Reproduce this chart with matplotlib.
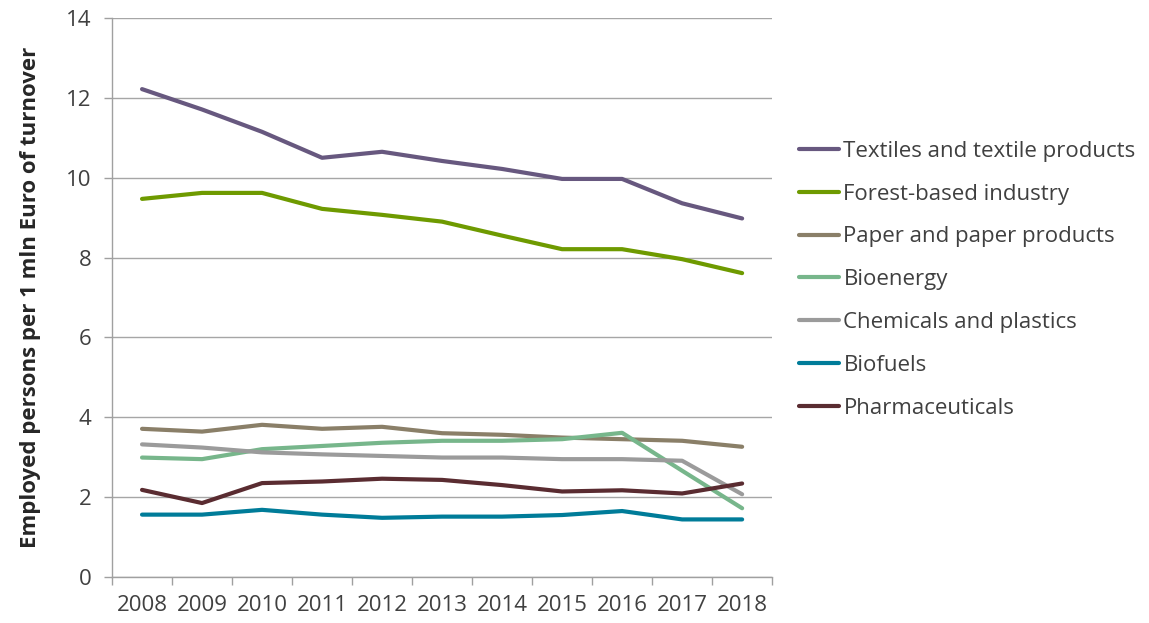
import numpy as np
import matplotlib.pyplot as plt

plt.rcParams['font.family'] = ['Open Sans', 'DejaVu Sans']

years = ['2008', '2009', '2010', '2011', '2012', '2013', '2014', '2015', '2016', '2017', '2018']

textiles = [12.22, 11.71, 11.15, 10.50, 10.65, 10.42, 10.22, 9.97, 9.97, 9.36, 8.98]
forest = [9.47, 9.62, 9.62, 9.22, 9.07, 8.90, 8.55, 8.21, 8.21, 7.96, 7.61]
paper = [3.71, 3.64, 3.81, 3.71, 3.76, 3.60, 3.56, 3.49, 3.45, 3.41, 3.26]
bioenergy = [2.99, 2.95, 3.20, 3.28, 3.36, 3.41, 3.41, 3.45, 3.61, 2.66, 1.72]
chemicals = [3.32, 3.24, 3.12, 3.07, 3.03, 2.99, 2.99, 2.95, 2.95, 2.91, 2.07]
biofuels = [1.56, 1.56, 1.68, 1.56, 1.48, 1.51, 1.51, 1.55, 1.65, 1.44, 1.44]
pharma = [2.18, 1.85, 2.35, 2.39, 2.46, 2.43, 2.30, 2.14, 2.17, 2.09, 2.34]

series = [
    ('Textiles and textile products', textiles, '#67587f'),
    ('Forest-based industry', forest, '#6e9a00'),
    ('Paper and paper products', paper, '#8a7f68'),
    ('Bioenergy', bioenergy, '#77b68b'),
    ('Chemicals and plastics', chemicals, '#9b9b9b'),
    ('Biofuels', biofuels, '#007c99'),
    ('Pharmaceuticals', pharma, '#5a2c31'),
]

fig = plt.figure(figsize=(11.49, 6.23), dpi=100)
ax = fig.add_axes([0.0975, 0.074, 0.5745, 0.897])

x = np.arange(len(years))
for name, vals, col in series:
    ax.plot(x, vals, color=col, lw=3, label=name, solid_capstyle='round', solid_joinstyle='round')

ax.set_xlim(-0.5, len(years) - 0.5)
ax.set_ylim(0, 14)
ax.set_yticks(np.arange(0, 15, 2))
ax.set_xticks(x)
ax.set_xticklabels(years)
ax.set_xticks(np.arange(-0.5, len(years), 1), minor=True)
ax.tick_params(axis='x', which='major', length=0, pad=13, labelsize=16, labelcolor='#404040')
ax.tick_params(axis='x', which='minor', length=6, color='#a0a0a0', width=1)
ax.tick_params(axis='y', length=6, color='#a0a0a0', width=1, labelsize=16, labelcolor='#404040', pad=9)

ax.grid(axis='y', color='#a6a6a6', lw=1)
ax.set_axisbelow(True)
for s in ['top', 'right']:
    ax.spines[s].set_visible(False)
for s in ['left', 'bottom']:
    ax.spines[s].set_color('#a0a0a0')
    ax.spines[s].set_linewidth(1)

ax.set_ylabel('Employed persons per 1 mln Euro of turnover', fontsize=16, fontweight='bold',
              color='#262626', labelpad=18)

leg = fig.legend(loc='upper left', bbox_to_anchor=(0.678, 0.806), frameon=False,
                 fontsize=16, handlelength=1.8, handletextpad=0.2, labelspacing=0.98)
for t in leg.get_texts():
    t.set_color('#404040')

fig.savefig('out.png', dpi=100)
